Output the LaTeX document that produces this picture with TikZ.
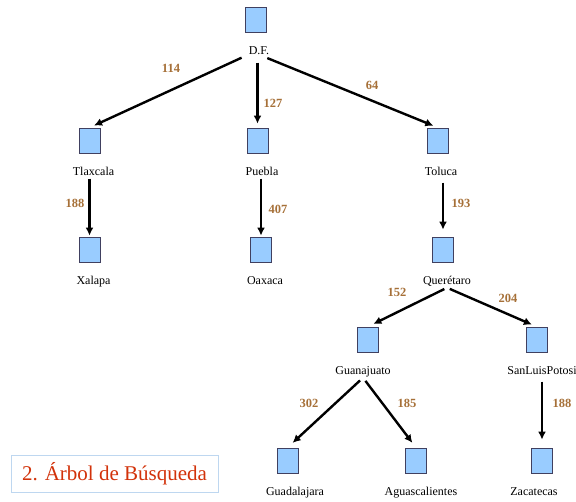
\documentclass[tikz,border=0pt]{standalone}
\usepackage{fontspec}
\setmainfont{Liberation Serif}
\usetikzlibrary{arrows.meta}
\definecolor{boxfill}{RGB}{153,204,255}
\definecolor{boxline}{RGB}{64,64,96}
\definecolor{weight}{RGB}{166,112,56}
\definecolor{titlered}{RGB}{210,50,10}
\definecolor{titleframe}{RGB}{190,215,240}
\begin{document}
\begin{tikzpicture}[x=1pt,y=-1pt,
  city/.style={draw=boxline,fill=boxfill,line width=0.8pt,minimum width=21pt,minimum height=25pt,inner sep=0pt},
  cityname/.style={font=\fontsize{12}{14}\selectfont,inner sep=1pt,text height=8.5pt,text depth=2.5pt},
  cost/.style={font=\fontsize{12.5}{14}\selectfont\bfseries,text=weight,inner sep=0pt},
  link/.style={line width=2.4pt,-{Latex[length=8pt,width=8pt]},shorten <=2pt,shorten >=5pt},
]
\useasboundingbox (0,0) rectangle (576,501);

% city boxes
\node[city] (dfB)   at (256,19.5) {};
\node[city] (tlaxB) at (89.5,140.5) {};
\node[city] (xalB)  at (89.5,249.5) {};
\node[city] (pueB)  at (257.5,140.5) {};
\node[city] (oaxB)  at (261,249.5) {};
\node[city] (tolB)  at (438,140.5) {};
\node[city] (querB) at (443,249.5) {};
\node[city] (guanB) at (368,339.5) {};
\node[city] (slpB)  at (536.5,339.5) {};
\node[city] (guadB) at (287.5,460.5) {};
\node[city] (aguB)  at (416,460.5) {};
\node[city] (zacB)  at (542,460.5) {};

% city names
\node[cityname] (dfL)   at (259,51) {D.F.};
\node[cityname] (tlaxL) at (93.5,172) {Tlaxcala};
\node[cityname] (xalL)  at (93.5,281) {Xalapa};
\node[cityname] (pueL)  at (262,172) {Puebla};
\node[cityname] (oaxL)  at (265,281) {Oaxaca};
\node[cityname] (tolL)  at (441,172) {Toluca};
\node[cityname] (querL) at (447,281) {Querétaro};
\node[cityname] (guanL) at (363,371) {Guanajuato};
\node[cityname] (slpL)  at (542,371) {SanLuisPotosi};
\node[cityname] (guadL) at (295,492) {Guadalajara};
\node[cityname] (aguL)  at (421,492) {Aguascalientes};
\node[cityname] (zacL)  at (534,492) {Zacatecas};

% search tree branches
\draw[link,shorten <=0pt] ([xshift=-6pt]dfL.south west) -- (tlaxB.north);
\draw[link,shorten <=5pt,shorten >=4pt] (dfL.south -| pueB.north) -- (pueB.north);
\draw[link,shorten <=1pt] ([xshift=-4pt]dfL.south east) -- (tolB.north);
\draw[link,shorten <=0pt,shorten >=1pt] (tlaxL.south -| xalB.north) -- (xalB.north);
\draw[link,shorten <=0pt,shorten >=1pt] (pueL.south -| oaxB.north) -- (oaxB.north);
\draw[link,shorten <=4pt,shorten >=7pt] (tolL.south -| querB.north) -- (querB.north);
\draw[link,shorten <=3pt,shorten >=6pt] (querL.south) -- (guanB.north);
\draw[link,shorten <=3pt,shorten >=5pt] (querL.south) -- (slpB.north);
\draw[link,shorten <=4pt,shorten >=7pt] (guanL.south) -- (guadB.north);
\draw[link,shorten <=4pt,shorten >=6pt] (guanL.south) -- (aguB.north);
\draw[link,shorten <=4pt,shorten >=8pt] (slpL.south -| zacB.north) -- (zacB.north);

% distances
\node[cost] (c114) at (171,68) {114};
\node[cost] (c127) at (273,103) {127};
\node[cost] (c64)  at (372,85) {64};
\node[cost] (c188a) at (75,203) {188};
\node[cost] (c407) at (278,209) {407};
\node[cost] (c193) at (461,203) {193};
\node[cost] (c152) at (397,292) {152};
\node[cost] (c204) at (508,298) {204};
\node[cost] (c302) at (309,403) {302};
\node[cost] (c185) at (407,403) {185};
\node[cost] (c188b) at (562,403) {188};

% caption
\node[draw=titleframe,line width=1pt,minimum width=207pt,minimum height=37pt,inner sep=0pt,
      text=titlered,font=\fontsize{21}{26}\selectfont] (title) at (114.5,473.5) {2. Árbol de Búsqueda};
\end{tikzpicture}
\end{document}
